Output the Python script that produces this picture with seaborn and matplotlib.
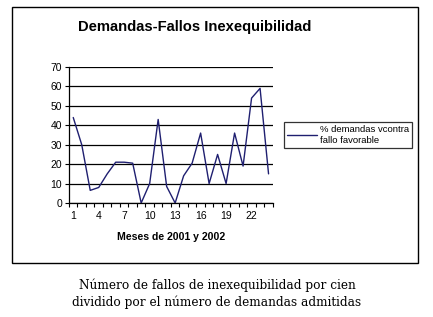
import matplotlib
matplotlib.use("Agg")
import matplotlib.pyplot as plt
import seaborn as sns
import pandas as pd
from matplotlib.patches import Rectangle

# datos
meses = list(range(1, 25))
porcentaje = [44, 30, 6.5, 8, 15, 21, 21, 20.5, 0, 10, 43, 8.5,
              0, 14, 20.5, 36, 10, 25, 10, 36, 19, 54, 59, 15]
ticks_x = [1, 4, 7, 10, 13, 16, 19, 22]
ticks_y = [0, 10, 20, 30, 40, 50, 60, 70]

df = pd.DataFrame({"mes": meses, "pct": porcentaje})

sns.set_style("white")
plt.rcParams["font.family"] = ["Liberation Sans", "DejaVu Sans"]
plt.rcParams["text.color"] = "black"
plt.rcParams["xtick.color"] = "black"
plt.rcParams["ytick.color"] = "black"
plt.rcParams["axes.labelcolor"] = "black"

W, H = 433, 317
fig = plt.figure(figsize=(W / 100, H / 100), dpi=100)

# marco exterior
fig.patches.append(Rectangle((12 / W, 1 - 263 / H), (418 - 12) / W, (263 - 7) / H,
                             transform=fig.transFigure, fill=False,
                             edgecolor="black", linewidth=1))

ax = fig.add_axes([69 / W, 1 - 203 / H, (272.8 - 69) / W, (203 - 67) / H])
sns.lineplot(data=df, x="mes", y="pct", ax=ax, color="#1f1f70", linewidth=1,
             label="% demandas vcontra\nfallo favorable")

ax.set_xlim(0.5, 24.5)
ax.set_ylim(0, 70)
ax.set_yticks(ticks_y)
ax.set_xticks(ticks_x)
ax.set_xticks([m + 0.5 for m in range(0, 25)], minor=True)
ax.tick_params(axis="x", which="major", length=0, pad=6, labelsize=7.5)
ax.tick_params(axis="x", which="minor", length=3, width=0.8, direction="out", bottom=True)
ax.tick_params(axis="y", length=3, width=0.8, direction="out", left=True, labelsize=7.5, pad=2)
ax.grid(axis="y", color="black", linewidth=0.9)
for s in ["top", "right"]:
    ax.spines[s].set_visible(False)
for s in ["left", "bottom"]:
    ax.spines[s].set_color("black")
    ax.spines[s].set_linewidth(0.9)
ax.set_xlabel("Meses de 2001 y 2002", fontsize=7.6, fontweight="bold", labelpad=8)
ax.set_ylabel("")

leg = ax.legend(loc="center left", bbox_to_anchor=(284 / W, 1 - 135 / H),
                bbox_transform=fig.transFigure, fontsize=6.8, frameon=True,
                fancybox=False, handlelength=3.2, handletextpad=0.3,
                borderpad=0.3, borderaxespad=0)
leg.get_frame().set_edgecolor("black")
leg.get_frame().set_linewidth(0.9)

fig.text(195 / W, 1 - 27 / H, "Demandas-Fallos Inexequibilidad", ha="center",
         va="center", fontsize=10.6, fontweight="bold")

fig.text(217 / W, 1 - 285 / H, "Número de fallos de inexequibilidad por cien",
         ha="center", va="center", fontsize=8.7, family="DejaVu Serif")
fig.text(217 / W, 1 - 302 / H, "dividido por el número de demandas admitidas",
         ha="center", va="center", fontsize=8.7, family="DejaVu Serif")

fig.savefig("out.png", dpi=100)
